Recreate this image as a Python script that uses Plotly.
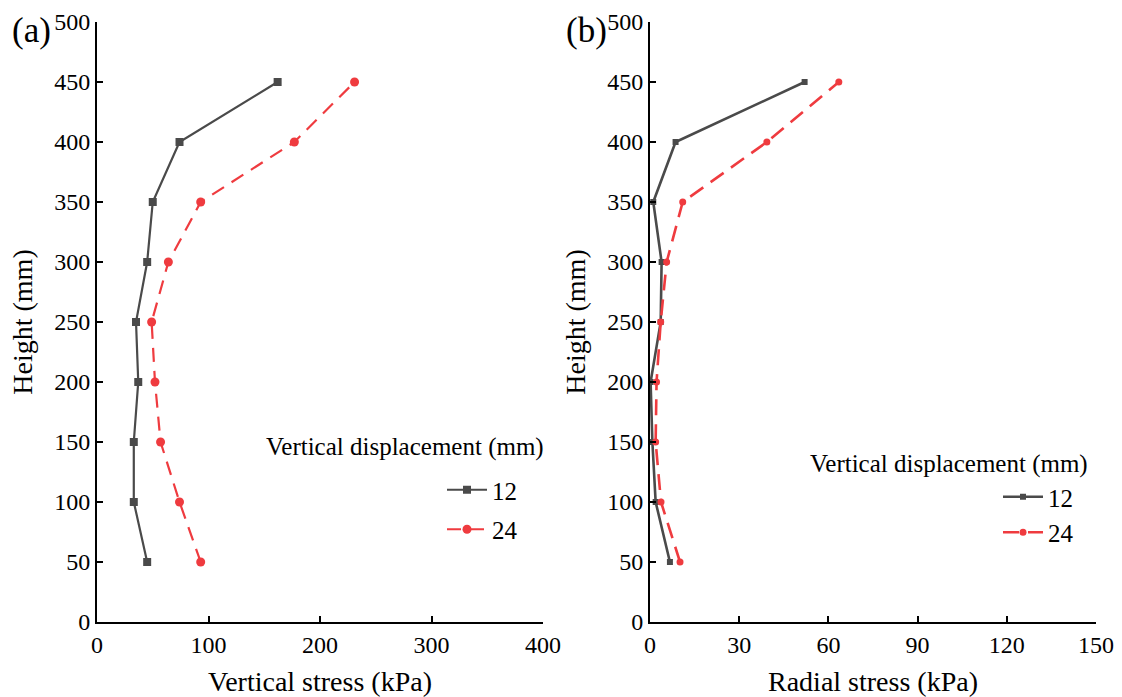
import plotly.graph_objects as go

heights = [50, 100, 150, 200, 250, 300, 350, 400, 450]
vert_12 = [45, 33, 33, 37, 35, 45, 50, 74, 162]
vert_24 = [93, 74, 57, 52, 49, 64, 93, 177, 231]
rad_12 = [6.7, 1.9, 0.8, 0.2, 3.6, 3.9, 1.1, 8.6, 52]
rad_24 = [10.1, 3.7, 1.9, 2.2, 3.6, 5.6, 11, 39.3, 63.5]

x_ticks_a = [0, 100, 200, 300, 400]
x_ticks_b = [0, 30, 60, 90, 120, 150]
y_ticks = [0, 50, 100, 150, 200, 250, 300, 350, 400, 450, 500]

GRAY = "#4a4a4a"
RED = "#ef3b3f"
FONT = "Times New Roman, Liberation Serif, DejaVu Serif, serif"

fig = go.Figure()
fig.add_trace(go.Scatter(x=vert_12, y=heights, mode="lines+markers", name="12",
                         line=dict(color=GRAY, width=2.2),
                         marker=dict(symbol="square", size=8, color=GRAY),
                         xaxis="x", yaxis="y", legend="legend", legendgroup="a12"))
fig.add_trace(go.Scatter(x=vert_24, y=heights, mode="lines+markers", name="24",
                         line=dict(color=RED, width=2.2, dash="14px,9px"),
                         marker=dict(symbol="circle", size=9, color=RED),
                         xaxis="x", yaxis="y", legend="legend", legendgroup="a24"))
fig.add_trace(go.Scatter(x=rad_12, y=heights, mode="lines+markers", name="12",
                         line=dict(color=GRAY, width=2.6),
                         marker=dict(symbol="square", size=6, color=GRAY),
                         xaxis="x2", yaxis="y2", legend="legend2"))
fig.add_trace(go.Scatter(x=rad_24, y=heights, mode="lines+markers", name="24",
                         line=dict(color=RED, width=2.6, dash="16px,9px"),
                         marker=dict(symbol="circle", size=7, color=RED),
                         xaxis="x2", yaxis="y2", legend="legend2"))

W, H = 1122, 697
xa = (97 / W, 543 / W)
xb = (650 / W, 1096 / W)
yd = (1 - 622 / H, 1 - 22 / H)

axis_common = dict(showline=True, linecolor="black", linewidth=2, ticks="inside",
                   ticklen=6, tickwidth=1.5, tickcolor="black", showgrid=False,
                   zeroline=False, mirror=False,
                   tickfont=dict(family=FONT, size=24, color="black"),
                   automargin=False)

fig.update_layout(
    width=W, height=H,
    margin=dict(l=0, r=0, t=0, b=0),
    paper_bgcolor="white", plot_bgcolor="white",
    font=dict(family=FONT, color="black"),
    xaxis=dict(domain=xa, range=[0, 400], tickvals=x_ticks_a, anchor="y",
               title=dict(text="Vertical stress (kPa)", font=dict(family=FONT, size=28), standoff=15),
               **axis_common),
    yaxis=dict(domain=yd, range=[0, 500], tickvals=y_ticks, anchor="x",
               title=dict(text="Height (mm)", font=dict(family=FONT, size=28), standoff=13),
               **axis_common),
    xaxis2=dict(domain=xb, range=[0, 150], tickvals=x_ticks_b, anchor="y2",
                title=dict(text="Radial stress (kPa)", font=dict(family=FONT, size=28), standoff=15),
                **axis_common),
    yaxis2=dict(domain=yd, range=[0, 500], tickvals=y_ticks, anchor="x2",
                title=dict(text="Height (mm)", font=dict(family=FONT, size=28), standoff=13),
                **axis_common),
    legend=dict(x=442 / W, y=1 - 467 / H, xanchor="left", yanchor="top",
                bgcolor="rgba(0,0,0,0)", font=dict(family=FONT, size=25),
                tracegroupgap=4, itemwidth=40),
    legend2=dict(x=998 / W, y=1 - 474 / H, xanchor="left", yanchor="top",
                 bgcolor="rgba(0,0,0,0)", font=dict(family=FONT, size=25),
                 itemwidth=40),
    showlegend=True,
    annotations=[
        dict(text="Vertical displacement (mm)", x=264 / W, y=1 - 447 / H, xref="paper", yref="paper",
             xanchor="left", yanchor="middle", showarrow=False, font=dict(family=FONT, size=25)),
        dict(text="Vertical displacement (mm)", x=808 / W, y=1 - 464 / H, xref="paper", yref="paper",
             xanchor="left", yanchor="middle", showarrow=False, font=dict(family=FONT, size=25)),
        dict(text="(a)", x=10 / W, y=1 - 30 / H, xref="paper", yref="paper",
             xanchor="left", yanchor="middle", showarrow=False, font=dict(family=FONT, size=35)),
        dict(text="(b)", x=564 / W, y=1 - 30 / H, xref="paper", yref="paper",
             xanchor="left", yanchor="middle", showarrow=False, font=dict(family=FONT, size=35)),
    ],
)

fig.write_html("out.html")
